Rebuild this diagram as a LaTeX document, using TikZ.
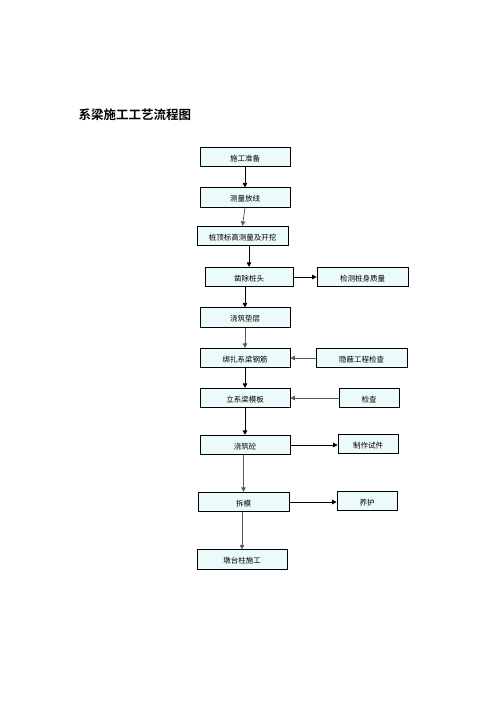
\documentclass[tikz,border=0pt]{standalone}
\usepackage{fontspec}
\newfontfamily\cjk{Noto Sans CJK SC}
\newfontfamily\cjkb{Noto Sans CJK SC Bold}
\usetikzlibrary{arrows.meta}
\definecolor{boxfill}{RGB}{235,250,250}
\definecolor{linegray}{RGB}{90,90,90}
\tikzset{
  box/.style={draw=black, line width=0.7pt, fill=boxfill, minimum height=19.5pt, inner sep=0pt, font=\cjk\fontsize{7.5}{9}\selectfont, text depth=0pt, anchor=center},
  flow/.style={draw=black, line width=0.8pt, -{Triangle[length=4.5pt,width=4.5pt]}},
  side/.style={draw=linegray, line width=0.8pt, -{Triangle[length=4.5pt,width=4.5pt]}}
}
\begin{document}
\begin{tikzpicture}[x=1pt,y=-1pt]
\useasboundingbox (0,0) rectangle (496,702);
\node[font=\cjkb\fontsize{12.5}{14}\selectfont, anchor=west] (title) at (75,115) {系梁施工工艺流程图};

\node[box, minimum width=90pt] (b1) at (245,157) {\raisebox{-2pt}{施工准备}};
\node[box, minimum width=90pt] (b2) at (245,197.5) {\raisebox{-2pt}{测量放线}};
\node[box, minimum width=91pt] (b3) at (242.5,236) {\raisebox{-2pt}{桩顶标高测量及开挖}};
\node[box, minimum width=88pt] (b4) at (249,277) {\raisebox{-2pt}{凿除桩头}};
\node[box, minimum width=91pt] (r4) at (362.5,277) {\raisebox{-2pt}{检测桩身质量}};
\node[box, minimum width=90pt] (b5) at (245,317.5) {\raisebox{-2pt}{浇筑垫层}};
\node[box, minimum width=90pt] (b6) at (245,358) {\raisebox{-2pt}{绑扎系梁钢筋}};
\node[box, minimum width=91pt] (r6) at (361.5,358) {\raisebox{-2pt}{隐蔽工程检查}};
\node[box, minimum width=90pt] (b7) at (245,398) {\raisebox{-2pt}{立系梁模板}};
\node[box, minimum width=60pt] (r7) at (369,398) {\raisebox{-2pt}{检查}};
\node[box, minimum width=90pt] (b8) at (245,445) {\raisebox{-2pt}{浇筑砼}};
\node[box, minimum width=60pt] (r8) at (368,444) {\raisebox{-2pt}{制作试件}};
\node[box, minimum width=91pt] (b9) at (243.5,502) {\raisebox{-2pt}{拆模}};
\node[box, minimum width=60pt] (r9) at (367,501) {\raisebox{-2pt}{养护}};
\node[box, minimum width=90pt] (b10) at (242,559.5) {\raisebox{-2pt}{墩台柱施工}};

\draw[flow] (b1.south) -- (b2.north);
\draw[side] (b2.south) -- (b3.north);
\draw[flow] (b3.south -| b4.north) -- (b4.north);
\draw[flow] (b4.south -| b5.north) -- (b5.north);
\draw[side] (b5.south) -- (b6.north);
\draw[flow] (b6.south) -- (b7.north);
\draw[flow] (b7.south) -- (b8.north);
\draw[side] (b8.south -| b9.north) -- (b9.north);
\draw[side] (b9.south -| b10.north) -- (b10.north);

\draw[flow] (b4.east) -- (r4.west);
\draw[side] (r6.west) -- (b6.east);
\draw[side] (r7.west) -- (b7.east);
\draw[flow] (b8.east) -- (r8.west |- b8.east);
\draw[flow] (b9.east) -- (r9.west |- b9.east);
\end{tikzpicture}
\end{document}
